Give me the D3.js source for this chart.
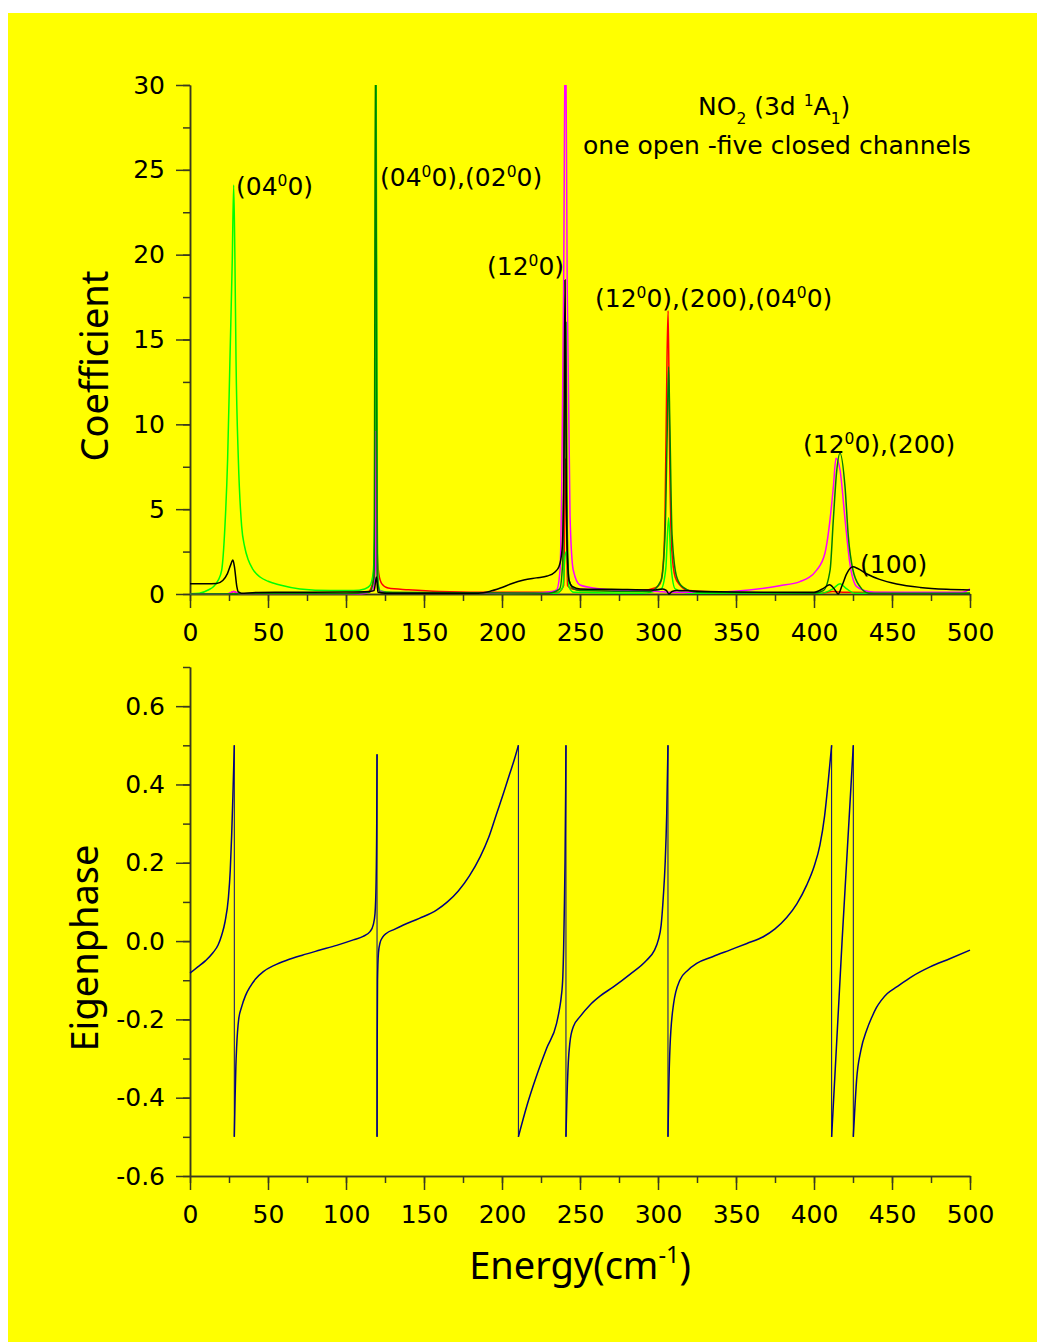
<!DOCTYPE html>
<html>
<head>
<meta charset="utf-8">
<script src="https://cdn.jsdelivr.net/npm/d3@7"></script>
<style>
  body { margin: 0; background: #ffffff; }
  text { font-family: "DejaVu Sans", sans-serif; fill: #000; }
  .title { font-family: "Noto Sans", "Open Sans", sans-serif; }
</style>
</head>
<body>
<div id="chart"></div>
<script>
// NO2 (3d 1A1) coefficients + eigenphase vs energy

const width = 1037;
const height = 1342;

// ---- data ([energy, value]) ----
const energyTicks = [0, 50, 100, 150, 200, 250, 300, 350, 400, 450, 500];
const coefTicks = [0, 5, 10, 15, 20, 25, 30];
const phaseTicks = [-0.6, -0.4, -0.2, 0.0, 0.2, 0.4, 0.6];

const coefBlack = [[0,0.6],[10,0.6],[17,0.62],[21,0.8],[24,1.2],[26,1.7],[27.5,2.0],[28.5,1.6],[30,0.45],[31,0.12],[33,0.05],[40,0.08],[60,0.1],[100,0.12],[115,0.15],[118,0.2],[119.5,1.0],[120.5,0.1],[125,0.05],[150,0.05],[185,0.05],[192,0.15],[199,0.35],[206,0.6],[214,0.82],[222,0.95],[229,1.06],[234,1.3],[236.5,1.6],[238.5,2.6],[239.5,6],[240.4,18.5],[241.2,6],[242,2],[243,0.8],[245,0.45],[250,0.3],[270,0.28],[297,0.24],[303,0.3],[305.5,0.2],[307,0],[309,0.15],[312,0.2],[330,0.15],[380,0.1],[400,0.1],[406,0.33],[410,0.55],[413,0.3],[415.5,0],[418,0.5],[421,1.2],[425,1.6],[428,1.5],[434,1.18],[442,0.86],[453,0.59],[468,0.39],[485,0.28],[500,0.24]];

const coefLime = [[0,0.02],[6,0.05],[12,0.25],[15,0.43],[18,0.8],[20.3,1.4],[22.4,4.0],[24.1,7.9],[25.6,13.8],[27.1,19.7],[28,24.1],[28.8,19.7],[29.5,13.8],[31,7.9],[33.1,4.0],[35,2.8],[37.4,2.0],[40,1.5],[44.9,1.0],[50,0.75],[57.7,0.53],[70.5,0.3],[90,0.2],[105,0.2],[112,0.3],[115.4,0.5],[117.5,1.3],[118.5,5],[119.2,35],[120,5],[120.7,0.6],[122,0.2],[130,0.08],[200,0.03],[235,0.05],[239,0.4],[240.5,2.3],[241.5,2.5],[243,0.4],[246,0.1],[290,0.05],[302,0.3],[305,1.5],[306.8,4.5],[308.5,1.5],[311,0.3],[320,0.05],[405,0.05],[412,0.3],[416.7,0.6],[421,0.3],[426,0.05],[500,0.05]];

const coefRed = [[0,0],[25,0.02],[28,0.15],[31,0.02],[100,0.02],[114,0.1],[117,0.6],[118.4,3],[119,21],[119.8,3],[121,1.2],[123,0.6],[127,0.35],[140,0.25],[160,0.15],[200,0.1],[236,0.1],[239.5,0.5],[240.8,8],[242,0.5],[245,0.3],[250,0.25],[290,0.2],[298,0.35],[301.3,0.6],[303.5,2],[304.5,4.6],[305.8,14],[306.5,16.7],[307.5,8],[308.8,2.6],[311,1.0],[314,0.53],[320,0.2],[350,0.08],[405,0.05],[412,0.15],[420,0.1],[500,0.05]];

const coefMagenta = [[0,0],[24,0.02],[28,0.15],[32,0.02],[110,0.02],[117,0.2],[118.8,1.5],[119.3,9.6],[119.8,1.5],[121,0.2],[130,0.05],[220,0.05],[232,0.15],[235,0.24],[237.2,1.4],[238.3,6.5],[239.5,18],[240.7,35],[241.8,18],[243.6,4.6],[245.7,1.4],[250,0.53],[260.7,0.33],[280,0.2],[300,0.15],[306,0.1],[330,0.1],[378,0.49],[391,0.73],[401.7,1.41],[407,2.4],[410.3,4.4],[412.4,6.3],[414.1,8.0],[416.7,7.3],[419.9,4.4],[423,1.8],[427.4,0.43],[435,0.15],[442,0.1],[495,0.1],[500,0.3]];

const coefDarkGreen = [[0,0],[100,0.02],[115,0.1],[118,1],[119,35],[120,1],[122,0.1],[230,0.05],[237,0.3],[239,2],[240.3,12],[241,16],[241.8,4],[243,0.8],[246,0.3],[250,0.2],[295,0.15],[302,0.8],[304.5,3.5],[306,10],[306.8,13.4],[307.6,10],[309,3.5],[312,1],[316,0.4],[325,0.1],[400,0.05],[406,0.2],[410.3,1.4],[412.4,4.4],[414.5,7.2],[416.7,8.3],[419.9,6.3],[422,3.4],[425,1.4],[429.5,0.43],[435,0.05],[500,0.05]];

// repeated energy = jump from +0.5 to -0.5
const eigenphase = [[0,-0.082],[5,-0.066],[10,-0.05],[14.7,-0.03],[18,-0.01],[20.3,0.015],[22.5,0.05],[24.6,0.11],[25.8,0.18],[26.7,0.27],[27.5,0.37],[28.4,0.5],
  [28.4,-0.5],[28.9,-0.4],[29.4,-0.32],[29.9,-0.27],[31.2,-0.2],[33.1,-0.168],[35.5,-0.14],[38.5,-0.117],[42,-0.097],[47,-0.078],[54,-0.062],[62,-0.049],[72,-0.036],[83.3,-0.023],[94,-0.011],[104.7,0.003],[111,0.012],[115.4,0.024],[117.5,0.042],[118.6,0.07],[119.3,0.15],[119.7,0.3],[119.9,0.477],
  [119.9,-0.5],[120.0,-0.25],[120.2,-0.1],[120.8,-0.03],[121.8,-0.005],[123.5,0.01],[126,0.02],[131,0.03],[136.8,0.041],[147,0.058],[158,0.079],[165,0.1],[172,0.128],[179,0.166],[186,0.215],[191.5,0.265],[196.6,0.326],[201,0.378],[205,0.428],[208,0.465],[210.5,0.5],
  [210.5,-0.5],[216,-0.42],[222,-0.346],[228.5,-0.275],[235,-0.21],[237,-0.17],[238,-0.142],[239,-0.09],[239.5,-0.02],[239.9,0.07],[240.4,0.2],[240.8,0.38],[241,0.5],
  [241,-0.5],[241.5,-0.42],[242.5,-0.31],[243.5,-0.26],[245.7,-0.219],[250,-0.193],[256.4,-0.163],[263,-0.14],[271.4,-0.117],[282,-0.085],[292.7,-0.049],[297.5,-0.025],[300.2,0.003],[302,0.04],[303.4,0.113],[304.6,0.2],[305.6,0.326],[306.4,0.5],
  [306.4,-0.5],[306.9,-0.38],[307.7,-0.27],[310,-0.16],[314,-0.1],[319,-0.075],[324.8,-0.057],[335,-0.04],[346,-0.023],[357,-0.006],[367.5,0.011],[375,0.031],[382.5,0.06],[389,0.095],[395.3,0.143],[400,0.19],[403.8,0.245],[406.8,0.32],[409.2,0.411],[411.3,0.5],
  [411.3,-0.5],[418,0.0],[425.2,0.5],
  [425.2,-0.5],[426,-0.44],[427.3,-0.355],[430,-0.28],[433.8,-0.227],[437,-0.195],[440,-0.17],[443,-0.152],[447,-0.134],[453,-0.117],[463,-0.09],[474.4,-0.066],[487,-0.045],[500,-0.023]];

// ---- layout ----
const left = 190, right = 970;
const topY0 = 594, topY1 = 85;
const botY0 = 1176, botY1 = 667;
const axisColor = "#3a3a20";

const svg = d3.select("#chart").append("svg").attr("width", width).attr("height", height);
svg.append("rect").attr("x", 8).attr("y", 13).attr("width", width - 8).attr("height", height - 13).attr("fill", "#ffff00");

const x = d3.scaleLinear().domain([0, 500]).range([left, right]);
const yTop = d3.scaleLinear().domain([0, 30]).range([topY0, topY1]);
const yBot = d3.scaleLinear().domain([-0.6, 0.7]).range([botY0, botY1]);

svg.append("defs").append("clipPath").attr("id", "clipTop")
  .append("rect").attr("x", left).attr("y", topY1).attr("width", right - left + 2).attr("height", topY0 - topY1 + 1);

function styleAxis(g) {
  g.select(".domain").attr("stroke", axisColor).attr("stroke-width", 1.5);
  g.selectAll(".tick line").attr("stroke", axisColor).attr("stroke-width", 1.5);
  g.selectAll(".tick text").style("font-size", "25px").style("font-family", "DejaVu Sans").attr("fill", "#000");
}

function drawAxes(yScale, y0, majorY, minorY, fmt) {
  // minor ticks
  svg.append("g").attr("transform", `translate(0,${y0})`)
    .call(d3.axisBottom(x).tickValues(d3.range(0, 501, 25)).tickSize(7).tickSizeOuter(0).tickFormat(""))
    .call(styleAxis);
  svg.append("g").attr("transform", `translate(${left},0)`)
    .call(d3.axisLeft(yScale).tickValues(minorY).tickSize(7).tickSizeOuter(0).tickFormat(""))
    .call(styleAxis);
  // major ticks with labels
  svg.append("g").attr("transform", `translate(0,${y0})`)
    .call(d3.axisBottom(x).tickValues(energyTicks).tickSize(14).tickSizeOuter(0).tickPadding(15))
    .call(styleAxis);
  svg.append("g").attr("transform", `translate(${left},0)`)
    .call(d3.axisLeft(yScale).tickValues(majorY).tickSize(14).tickSizeOuter(0).tickPadding(11).tickFormat(fmt))
    .call(styleAxis);
}

drawAxes(yTop, topY0, coefTicks, d3.range(0, 30.1, 2.5), d3.format("d"));
drawAxes(yBot, botY0, phaseTicks, d3.range(-6, 8, 1).map(v => v / 10),
  v => (Math.abs(v) < 1e-9 ? 0 : v).toFixed(1));

// ---- top curves ----
const lineTop = d3.line().x(d => x(d[0])).y(d => yTop(d[1])).curve(d3.curveMonotoneX);
const topSeries = [
  [coefRed, "#ff0000"],
  [coefLime, "#00ff00"],
  [coefMagenta, "#ff00ff"],
  [coefDarkGreen, "#008000"],
  [coefBlack, "#000000"]
];
const curves = svg.append("g").attr("clip-path", "url(#clipTop)");
topSeries.forEach(([data, color]) => {
  curves.append("path").datum(data)
    .attr("d", lineTop)
    .attr("fill", "none")
    .attr("stroke", color)
    .attr("stroke-width", 1.5);
});

// ---- bottom curve: split into branches at the jumps ----
const branches = [];
eigenphase.forEach((p, i) => {
  if (i === 0 || p[0] === eigenphase[i - 1][0]) branches.push([]);
  branches[branches.length - 1].push(p);
});
const lineBot = d3.line().x(d => x(d[0])).y(d => yBot(d[1])).curve(d3.curveMonotoneX);
const bot = svg.append("g");
branches.forEach((b, i) => {
  bot.append("path").datum(b)
    .attr("d", lineBot)
    .attr("fill", "none")
    .attr("stroke", "#000080")
    .attr("stroke-width", 1.5);
  if (i > 0) {
    const prev = branches[i - 1][branches[i - 1].length - 1];
    bot.append("line")
      .attr("x1", x(prev[0])).attr("y1", yBot(prev[1]))
      .attr("x2", x(b[0][0])).attr("y2", yBot(b[0][1]))
      .attr("stroke", "#000080")
      .attr("stroke-width", 1);
  }
});

// ---- text ----
function supText(sel, parts) {
  // parts: [text, "n" | "sup" | "sub"]
  parts.forEach(([t, kind]) => {
    const ts = sel.append("tspan").text(t);
    if (kind === "sup") ts.attr("baseline-shift", "super").style("font-size", "0.62em");
    if (kind === "sub") ts.attr("baseline-shift", "sub").style("font-size", "0.62em");
  });
}

const annFont = "25px";
const annotations = [
  [236, 195, [["(04", "n"], ["0", "sup"], ["0)", "n"]]],
  [380, 186, [["(04", "n"], ["0", "sup"], ["0),(02", "n"], ["0", "sup"], ["0)", "n"]]],
  [487, 275, [["(12", "n"], ["0", "sup"], ["0)", "n"]]],
  [595, 307, [["(12", "n"], ["0", "sup"], ["0),(200),(04", "n"], ["0", "sup"], ["0)", "n"]]],
  [803, 453, [["(12", "n"], ["0", "sup"], ["0),(200)", "n"]]],
  [860, 573, [["(100)", "n"]]]
];
annotations.forEach(([ax, ay, parts]) => {
  const t = svg.append("text").attr("x", ax).attr("y", ay).style("font-size", annFont);
  supText(t, parts);
});

const title1 = svg.append("text").attr("x", 698).attr("y", 115).style("font-size", annFont);
supText(title1, [["NO", "n"], ["2", "sub"], [" (3d ", "n"], ["1", "sup"], ["A", "n"], ["1", "sub"], [")", "n"]]);
svg.append("text").attr("x", 583).attr("y", 154).style("font-size", annFont)
  .text("one open -five closed channels");

svg.append("text").attr("class", "title")
  .attr("transform", "translate(108,366) rotate(-90)")
  .attr("text-anchor", "middle")
  .style("font-size", "38px")
  .text("Coefficient");

svg.append("text").attr("class", "title")
  .attr("transform", "translate(98,948) rotate(-90)")
  .attr("text-anchor", "middle")
  .style("font-size", "38px")
  .text("Eigenphase");

const xt = svg.append("text").attr("class", "title").attr("x", 580).attr("y", 1279).attr("text-anchor", "middle").style("font-size", "38px");
supText(xt, [["Energy(cm", "n"], ["-1", "sup"], [")", "n"]]);
</script>
</body>
</html>
